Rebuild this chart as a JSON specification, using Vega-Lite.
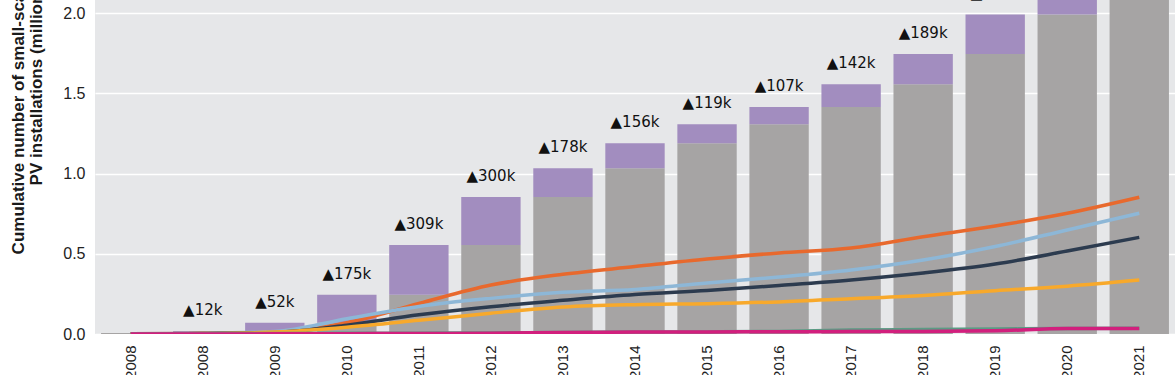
{
  "$schema": "https://vega.github.io/schema/vega-lite/v6.json",
  "width": 1080,
  "height": 334,
  "autosize": {"type": "none"},
  "padding": {"left": 95, "top": 0, "right": 0, "bottom": 41},
  "background": "white",
  "config": {
    "view": {"fill": "#e6e7e9", "stroke": null},
    "font": "Liberation Sans"
  },
  "datasets": {
    "bars": [
      {"period": "Pre-2008", "prev": 0.006, "total": 0.006, "label": ""},
      {"period": "2008", "prev": 0.006, "total": 0.018, "label": "▲12k"},
      {"period": "2009", "prev": 0.018, "total": 0.070, "label": "▲52k"},
      {"period": "2010", "prev": 0.070, "total": 0.245, "label": "▲175k"},
      {"period": "2011", "prev": 0.245, "total": 0.554, "label": "▲309k"},
      {"period": "2012", "prev": 0.554, "total": 0.854, "label": "▲300k"},
      {"period": "2013", "prev": 0.854, "total": 1.032, "label": "▲178k"},
      {"period": "2014", "prev": 1.032, "total": 1.188, "label": "▲156k"},
      {"period": "2015", "prev": 1.188, "total": 1.307, "label": "▲119k"},
      {"period": "2016", "prev": 1.307, "total": 1.414, "label": "▲107k"},
      {"period": "2017", "prev": 1.414, "total": 1.556, "label": "▲142k"},
      {"period": "2018", "prev": 1.556, "total": 1.745, "label": "▲189k"},
      {"period": "2019", "prev": 1.745, "total": 1.99, "label": "▲245k"},
      {"period": "2020", "prev": 1.99, "total": 2.27, "label": "▲280k"},
      {"period": "2021", "prev": 2.27, "total": 2.53, "label": "▲260k"}
    ],
    "lines": [
      {"period": "Pre-2008", "series": "A", "value": 0.002},
      {"period": "2008", "series": "A", "value": 0.004},
      {"period": "2009", "series": "A", "value": 0.010},
      {"period": "2010", "series": "A", "value": 0.070},
      {"period": "2011", "series": "A", "value": 0.190},
      {"period": "2012", "series": "A", "value": 0.305},
      {"period": "2013", "series": "A", "value": 0.372},
      {"period": "2014", "series": "A", "value": 0.420},
      {"period": "2015", "series": "A", "value": 0.467},
      {"period": "2016", "series": "A", "value": 0.505},
      {"period": "2017", "series": "A", "value": 0.536},
      {"period": "2018", "series": "A", "value": 0.606},
      {"period": "2019", "series": "A", "value": 0.673},
      {"period": "2020", "series": "A", "value": 0.752},
      {"period": "2021", "series": "A", "value": 0.852},

      {"period": "Pre-2008", "series": "B", "value": 0.002},
      {"period": "2008", "series": "B", "value": 0.004},
      {"period": "2009", "series": "B", "value": 0.015},
      {"period": "2010", "series": "B", "value": 0.095},
      {"period": "2011", "series": "B", "value": 0.172},
      {"period": "2012", "series": "B", "value": 0.222},
      {"period": "2013", "series": "B", "value": 0.260},
      {"period": "2014", "series": "B", "value": 0.277},
      {"period": "2015", "series": "B", "value": 0.318},
      {"period": "2016", "series": "B", "value": 0.355},
      {"period": "2017", "series": "B", "value": 0.399},
      {"period": "2018", "series": "B", "value": 0.461},
      {"period": "2019", "series": "B", "value": 0.545},
      {"period": "2020", "series": "B", "value": 0.648},
      {"period": "2021", "series": "B", "value": 0.752},

      {"period": "Pre-2008", "series": "C", "value": 0.001},
      {"period": "2008", "series": "C", "value": 0.003},
      {"period": "2009", "series": "C", "value": 0.010},
      {"period": "2010", "series": "C", "value": 0.055},
      {"period": "2011", "series": "C", "value": 0.120},
      {"period": "2012", "series": "C", "value": 0.170},
      {"period": "2013", "series": "C", "value": 0.210},
      {"period": "2014", "series": "C", "value": 0.246},
      {"period": "2015", "series": "C", "value": 0.271},
      {"period": "2016", "series": "C", "value": 0.302},
      {"period": "2017", "series": "C", "value": 0.336},
      {"period": "2018", "series": "C", "value": 0.380},
      {"period": "2019", "series": "C", "value": 0.436},
      {"period": "2020", "series": "C", "value": 0.517},
      {"period": "2021", "series": "C", "value": 0.602},

      {"period": "Pre-2008", "series": "D", "value": 0.001},
      {"period": "2008", "series": "D", "value": 0.003},
      {"period": "2009", "series": "D", "value": 0.012},
      {"period": "2010", "series": "D", "value": 0.042},
      {"period": "2011", "series": "D", "value": 0.085},
      {"period": "2012", "series": "D", "value": 0.130},
      {"period": "2013", "series": "D", "value": 0.168},
      {"period": "2014", "series": "D", "value": 0.183},
      {"period": "2015", "series": "D", "value": 0.189},
      {"period": "2016", "series": "D", "value": 0.200},
      {"period": "2017", "series": "D", "value": 0.220},
      {"period": "2018", "series": "D", "value": 0.240},
      {"period": "2019", "series": "D", "value": 0.270},
      {"period": "2020", "series": "D", "value": 0.298},
      {"period": "2021", "series": "D", "value": 0.336},

      {"period": "Pre-2008", "series": "E", "value": 0.002},
      {"period": "2008", "series": "E", "value": 0.002},
      {"period": "2009", "series": "E", "value": 0.003},
      {"period": "2010", "series": "E", "value": 0.004},
      {"period": "2011", "series": "E", "value": 0.005},
      {"period": "2012", "series": "E", "value": 0.007},
      {"period": "2013", "series": "E", "value": 0.010},
      {"period": "2014", "series": "E", "value": 0.012},
      {"period": "2015", "series": "E", "value": 0.013},
      {"period": "2016", "series": "E", "value": 0.016},
      {"period": "2017", "series": "E", "value": 0.025},
      {"period": "2018", "series": "E", "value": 0.028},
      {"period": "2019", "series": "E", "value": 0.031},
      {"period": "2020", "series": "E", "value": 0.034},
      {"period": "2021", "series": "E", "value": 0.036},

      {"period": "Pre-2008", "series": "F", "value": 0.000},
      {"period": "2008", "series": "F", "value": 0.000},
      {"period": "2009", "series": "F", "value": 0.001},
      {"period": "2010", "series": "F", "value": 0.002},
      {"period": "2011", "series": "F", "value": 0.003},
      {"period": "2012", "series": "F", "value": 0.005},
      {"period": "2013", "series": "F", "value": 0.009},
      {"period": "2014", "series": "F", "value": 0.012},
      {"period": "2015", "series": "F", "value": 0.013},
      {"period": "2016", "series": "F", "value": 0.014},
      {"period": "2017", "series": "F", "value": 0.015},
      {"period": "2018", "series": "F", "value": 0.016},
      {"period": "2019", "series": "F", "value": 0.020},
      {"period": "2020", "series": "F", "value": 0.034},
      {"period": "2021", "series": "F", "value": 0.035}
    ]
  },
  "encoding": {
    "x": {
      "field": "period",
      "type": "ordinal",
      "scale": {
        "domain": ["Pre-2008", "2008", "2009", "2010", "2011", "2012", "2013", "2014", "2015", "2016", "2017", "2018", "2019", "2020", "2021"],
        "paddingInner": 0.176,
        "paddingOuter": 0.084
      },
      "axis": {
        "title": null,
        "labelAngle": -90,
        "ticks": false,
        "domain": false,
        "labelPadding": 11,
        "labelFontSize": 15,
        "labelColor": "#222222"
      }
    }
  },
  "layer": [
    {
      "data": {"name": "bars"},
      "mark": {"type": "bar", "color": "#a6a4a4", "clip": true},
      "encoding": {
        "y": {
          "field": "prev",
          "type": "quantitative",
          "scale": {"domain": [0, 2.081], "nice": false, "zero": true},
          "axis": {
            "title": ["Cumulative number of small-scale", "PV installations (millions)"],
            "values": [0, 0.5, 1, 1.5, 2],
            "format": ".1f",
            "grid": true,
            "gridColor": "#ffffff",
            "gridWidth": 1.5,
            "ticks": false,
            "domain": false,
            "labelFontSize": 16,
            "labelColor": "#222222",
            "labelPadding": 10,
            "titleFontSize": 17,
            "titleFontWeight": "bold",
            "titleColor": "#1a1a1a",
            "titleAlign": "right",
            "titleBaseline": "bottom",
            "titleLineHeight": 18,
            "titleX": -68,
            "titleY": -22
          }
        }
      }
    },
    {
      "data": {"name": "bars"},
      "mark": {"type": "bar", "color": "#a28dbf", "clip": true},
      "encoding": {
        "y": {"field": "prev", "type": "quantitative"},
        "y2": {"field": "total"}
      }
    },
    {
      "data": {"name": "lines"},
      "mark": {"type": "line", "strokeWidth": 3.5, "interpolate": "monotone", "clip": true},
      "encoding": {
        "y": {"field": "value", "type": "quantitative"},
        "color": {
          "field": "series",
          "type": "nominal",
          "scale": {
            "domain": ["A", "B", "C", "D", "E", "F"],
            "range": ["#e8692d", "#8db7d7", "#2c3b4f", "#f8a92b", "#5b9b84", "#d21f7d"]
          },
          "legend": null
        }
      }
    },
    {
      "data": {"name": "bars"},
      "mark": {"type": "text", "font": "DejaVu Sans", "fontSize": 15, "baseline": "alphabetic", "dy": -16, "color": "#111111"},
      "encoding": {
        "y": {"field": "total", "type": "quantitative"},
        "text": {"field": "label"}
      }
    }
  ]
}
